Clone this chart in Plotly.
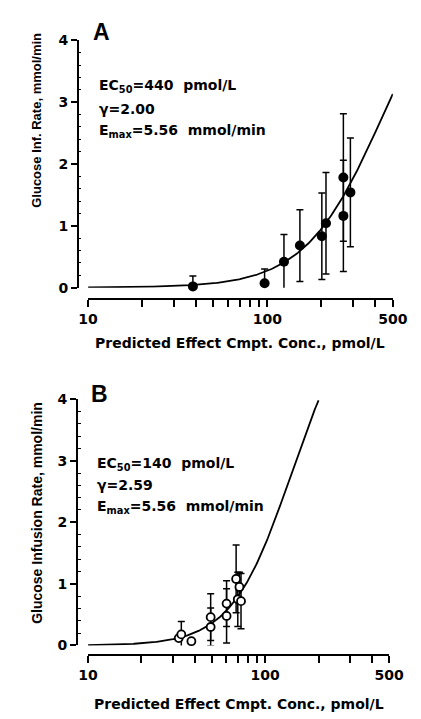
import numpy as np
import plotly.graph_objects as go

# ---------------- data ----------------
# Panel A (filled circles): predicted effect-compartment concentration (pmol/L),
# glucose infusion rate (mmol/min) and SD
a_conc = [38.4, 96.4, 123.6, 151.7, 201.0, 212.0, 265.0, 265.0, 290.0]
a_rate = [0.02, 0.07, 0.42, 0.68, 0.83, 1.04, 1.78, 1.16, 1.54]
a_err = [0.17, 0.23, 0.44, 0.58, 0.70, 0.82, 1.03, 0.90, 0.88]

# Panel B (open circles)
b_conc = [32.5, 33.6, 38.3, 49.2, 49.2, 60.5, 60.5, 68.5, 70.0, 71.5, 73.0]
b_rate = [0.12, 0.18, 0.07, 0.46, 0.30, 0.48, 0.68, 1.08, 0.75, 0.95, 0.72]
b_err = [0.0, 0.21, 0.0, 0.38, 0.31, 0.44, 0.37, 0.55, 0.44, 0.24, 0.45]

# Fitted sigmoid Emax model parameters shown in each panel
a_params = {"ec50": 440.0, "gamma": 2.00, "emax": 5.56, "cmax": 500.0}
b_params = {"ec50": 140.0, "gamma": 2.59, "emax": 5.56, "cmax": 200.0}

x_tickvals = [10, 20, 30, 40, 50, 60, 70, 80, 90, 100, 200, 300, 400, 500]
x_ticktext = ["10", "", "", "", "", "", "", "", "", "100", "", "", "", "500"]
y_tickvals = [0, 1, 2, 3, 4]
y_minorvals = [0.2, 0.4, 0.6, 0.8, 1.2, 1.4, 1.6, 1.8, 2.2, 2.4, 2.6, 2.8,
               3.2, 3.4, 3.6, 3.8]

x_title = "Predicted Effect Cmpt. Conc., pmol/L"
ya_title = "Glucose Inf. Rate, mmol/min"
yb_title = "Glucose Infusion Rate, mmol/min"
a_text = ["EC<sub>50</sub>=440  pmol/L", "γ=2.00", "E<sub>max</sub>=5.56  mmol/min"]
b_text = ["EC<sub>50</sub>=140  pmol/L", "γ=2.59", "E<sub>max</sub>=5.56  mmol/min"]


def hill(p):
    c = np.logspace(1, np.log10(p["cmax"]), 300)
    e = p["emax"] * c ** p["gamma"] / (p["ec50"] ** p["gamma"] + c ** p["gamma"])
    return c, e


W, H = 421, 719


def px(x):
    return x / W


def py(y):
    return 1 - y / H


BOLD = "DejaVu Sans"
fig = go.Figure()

# Panel A
ca, ea = hill(a_params)
fig.add_trace(go.Scatter(x=ca, y=ea, mode="lines", line=dict(color="black", width=1.8),
                         xaxis="x", yaxis="y", showlegend=False, hoverinfo="skip", cliponaxis=False))
fig.add_trace(go.Scatter(x=a_conc, y=a_rate, mode="markers",
                         marker=dict(symbol="circle", size=10, color="black"),
                         error_y=dict(type="data", array=a_err, color="black", thickness=1.5, width=3.5),
                         xaxis="x", yaxis="y", showlegend=False, cliponaxis=False))

# Panel B
cb, eb = hill(b_params)
fig.add_trace(go.Scatter(x=cb, y=eb, mode="lines", line=dict(color="black", width=1.8),
                         xaxis="x2", yaxis="y2", showlegend=False, hoverinfo="skip", cliponaxis=False))
fig.add_trace(go.Scatter(x=b_conc, y=b_rate, mode="markers",
                         marker=dict(symbol="circle", size=8, color="white",
                                     line=dict(color="black", width=1.8)),
                         error_y=dict(type="data", array=b_err, color="black", thickness=1.5, width=3.5),
                         xaxis="x2", yaxis="y2", showlegend=False, cliponaxis=False))

tickfont = dict(family=BOLD, size=14, color="black", weight="bold")


def xax(dom, pos):
    return dict(type="log", domain=dom, range=[1, np.log10(500)], anchor="free", position=pos,
                showline=True, linecolor="black", linewidth=1.5,
                ticks="outside", ticklen=7, tickwidth=1.5, tickcolor="black",
                tickmode="array", tickvals=x_tickvals, ticktext=x_ticktext,
                tickfont=tickfont, showgrid=False, zeroline=False)


def yax(dom, pos):
    return dict(domain=dom, range=[0, 4], anchor="free", position=pos,
                showline=True, linecolor="black", linewidth=1.5,
                ticks="outside", ticklen=6, tickwidth=1.5, tickcolor="black",
                tickmode="array", tickvals=y_tickvals, tickfont=tickfont,
                minor=dict(tickmode="array", tickvals=y_minorvals, ticks="inside",
                           ticklen=3, tickwidth=1, tickcolor="black", showgrid=False),
                showgrid=False, zeroline=False)


fig.update_layout(
    width=W, height=H, margin=dict(l=0, r=0, t=0, b=0),
    paper_bgcolor="white", plot_bgcolor="white",
    xaxis=xax([px(83), px(407)], py(298)),
    yaxis=yax([py(286), py(33)], px(72)),
    xaxis2=xax([px(83), px(403)], py(662)),
    yaxis2=yax([py(652), py(400)], px(71)),
)


def note(text, x, y, size=14, family=BOLD, xanchor="center", angle=0):
    return dict(text=text, x=px(x), y=py(y), xref="paper", yref="paper", showarrow=False,
                xanchor=xanchor, yanchor="middle", textangle=angle,
                font=dict(family=family, size=size, color="black", weight="bold"))


ann = []
ann.append(note("A", 97, 25, size=23, family="Liberation Sans"))
ann.append(note("B", 95, 395, size=23, family="Liberation Sans"))
ann.append(note(x_title, 245, 343))
ann.append(note(x_title, 243, 712))
ann.append(note(ya_title, 28, 115, size=13, family="Liberation Sans", angle=-90))
ann.append(note(yb_title, 28, 516, size=14, family="Liberation Sans", angle=-90))
for t, yy in zip(a_text, [80, 103, 126]):
    ann.append(note(t, 93, yy, xanchor="left"))
for t, yy in zip(b_text, [466, 488, 510]):
    ann.append(note(t, 90, yy, xanchor="left"))
fig.update_layout(annotations=ann)

fig.write_html("out.html", config={"displayModeBar": False},
               post_script="document.body.style.margin='0';document.body.style.overflow='hidden';")
